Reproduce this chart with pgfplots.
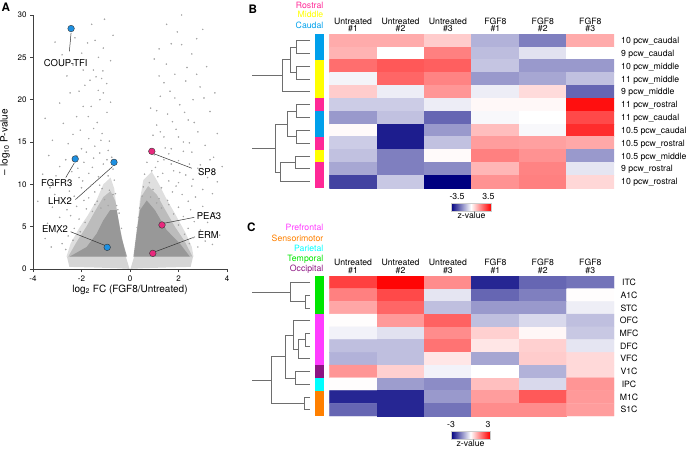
\documentclass[border=0pt]{standalone}
\usepackage{pgfplots}
\pgfplotsset{compat=1.18}
\usepackage{fontspec}
\setmainfont{TeX Gyre Heros}
\definecolor{cloud}{RGB}{140,140,140}
\definecolor{band}{RGB}{214,214,214}
\definecolor{speck}{RGB}{165,165,165}
\definecolor{hlblue}{RGB}{30,144,225}
\definecolor{hlpink}{RGB}{232,40,125}
\definecolor{rostral}{RGB}{255,40,150}
\definecolor{middle}{RGB}{255,255,0}
\definecolor{caudal}{RGB}{0,160,235}
\definecolor{prefrontal}{RGB}{255,60,255}
\definecolor{sensori}{RGB}{255,128,0}
\definecolor{parietal}{RGB}{0,255,255}
\definecolor{temporal}{RGB}{0,230,0}
\definecolor{occipital}{RGB}{140,20,130}
\definecolor{navyc}{RGB}{0,0,128}
\definecolor{dendro}{RGB}{110,110,110}
\definecolor{leader}{RGB}{50,50,50}
\pgfplotsset{colormap={nwr}{rgb255(0cm)=(0,0,128) rgb255(1cm)=(255,255,255) rgb255(2cm)=(255,0,0)}}
\newcommand{\hfont}{\fontsize{8.7}{9}\selectfont}
\begin{document}
\begin{tikzpicture}
\path[use as bounding box] (0pt,0pt) rectangle (688pt,-448pt);

% ---------------- Panel A: volcano ----------------
\begin{axis}[at={(33pt,-269pt)}, anchor=south west, scale only axis,
  width=194pt, height=254pt, xmin=-4, xmax=4, ymin=0, ymax=30,
  axis lines*=left, xtick={-4,-2,0,2,4}, ytick={0,5,10,15,20,25,30},
  tick align=outside, major tick length=3pt,
  tick style={line width=0.5pt, black!75}, axis line style={line width=0.5pt, black!75},
  ticklabel style={font=\fontsize{8}{9}\selectfont},
  /pgf/number format/assume math mode=true,
  xlabel={log\textsubscript{2} FC (FGF8/Untreated)},
  ylabel={– log\textsubscript{10} P-value},
  label style={font=\fontsize{10}{12}\selectfont},
  xlabel style={yshift=3.5pt}, ylabel style={yshift=1pt},
  clip=false]
% non-significant band
\addplot[fill=band, draw=none] coordinates {(-2.5,0.25) (-2.6,1.45) (-0.17,1.45) (-0.02,0.02) (-0.6,0.1) (-1.5,0.18)} -- cycle;
\addplot[fill=band, draw=none] coordinates {(0.02,0.02) (0.17,1.45) (2.6,1.45) (2.5,0.25) (1.5,0.18) (0.6,0.1)} -- cycle;
% outer wings
\addplot[fill=cloud, draw=none, fill opacity=0.28] coordinates {(-2.62,1.45) (-2.45,3) (-2.1,4.8) (-1.75,6.3) (-1.4,8) (-1.1,10) (-0.8,10.8) (-0.65,9.5) (-0.55,7) (-0.35,4) (-0.18,1.45)} -- cycle;
\addplot[fill=cloud, draw=none, fill opacity=0.28] coordinates {(0.18,1.45) (0.3,5) (0.4,8) (0.55,10.5) (0.9,11.5) (1.2,10) (1.5,8.3) (1.9,6.3) (2.3,4.2) (2.55,2.6) (2.62,1.45)} -- cycle;
% middle wings
\addplot[fill=cloud, draw=none, fill opacity=0.42] coordinates {(-2.55,1.45) (-2.2,3.2) (-1.8,5) (-1.45,6.8) (-1.1,8.5) (-0.8,9.2) (-0.6,8) (-0.4,4.5) (-0.15,1.45)} -- cycle;
\addplot[fill=cloud, draw=none, fill opacity=0.42] coordinates {(0.15,1.45) (0.32,5) (0.45,8.5) (0.75,9.8) (1.1,8.8) (1.45,7) (1.85,5) (2.25,3.3) (2.58,1.45)} -- cycle;
% dense cores
\addplot[fill=cloud, draw=none, fill opacity=0.75] coordinates {(-2.5,1.45) (-1.79,2.6) (-1.37,4.2) (-1.1,5.75) (-0.82,6.95) (-0.55,6.95) (-0.34,3.6) (-0.12,1.45)} -- cycle;
\addplot[fill=cloud, draw=none, fill opacity=0.75] coordinates {(0.14,1.45) (0.28,4.6) (0.41,6.95) (0.69,8.1) (1.03,6.95) (1.51,4.6) (2.06,3.0) (2.47,1.45)} -- cycle;
% scattered genes
\addplot[only marks, mark=*, mark size=0.55pt, speck] coordinates {
(-3.09,26.8) (-2.27,27.3) (-1.58,28.9) (-1.44,27.0) (-1.10,26.1) (-1.99,25.5) (-1.93,23.5) (-1.51,23.5)
(-1.12,23.4) (-1.40,22.7) (-1.17,22.5) (-0.96,21.9) (-1.31,21.1) (-1.86,21.7) (-1.10,20.8) (-2.47,20.8)
(-1.24,20.0) (-1.60,19.2) (-1.93,19.2) (-2.20,18.0) (-1.72,18.0) (-2.75,17.2) (-0.95,18.5) (-1.35,17.3)
(-2.05,16.4) (-3.20,15.2) (-1.15,16.0) (-1.70,15.4) (-2.55,14.8) (-0.85,15.1) (-1.45,14.5) (-2.0,14.2)
(-3.35,13.4) (-0.80,24.6) (-2.60,22.8) (-1.75,26.7)
(-3.5,17.8) (-2.9,19.6) (-2.35,24.1) (-2.8,25.3) (-1.3,25.0) (-0.7,27.6) (-1.05,29.5) (-1.65,22.3)
(-2.1,21.0) (-0.8,19.7) (-1.5,16.6) (-2.35,15.9) (-0.9,14.0) (-1.2,15.2) (-2.65,12.9) (-3.05,11.0)
(-1.55,12.0) (-2.15,11.9) (-0.7,11.8) (-1.95,10.4) (-2.45,10.0) (-1.25,9.9) (-3.8,8.0) (-3.1,8.8)
(2.13,30.0) (1.51,28.9) (2.13,26.5) (1.50,24.2) (3.16,23.9) (2.89,21.5) (1.95,28.0) (2.55,25.4)
(1.20,26.0) (1.85,23.0) (2.30,22.2) (1.65,21.0) (2.60,20.0) (1.25,20.4) (2.05,19.4) (3.30,18.6)
(1.55,18.3) (2.40,17.6) (1.10,17.0) (1.90,16.5) (2.80,16.2) (1.40,15.6) (2.20,15.0) (3.10,14.6)
(0.95,15.8) (1.70,14.2) (2.55,13.8) (1.20,22.8) (3.50,20.8) (0.85,19.0) (2.00,12.8) (2.90,12.3) (3.45,13.2)
(3.0,28.3) (2.75,27.2) (1.7,26.6) (1.0,24.8) (2.35,23.8) (1.4,22.0) (2.75,23.0) (1.85,20.2)
(3.05,20.2) (1.1,18.7) (2.25,18.5) (2.65,17.3) (1.75,17.4) (1.25,16.2) (3.6,16.0) (2.0,15.6)
(2.45,14.9) (1.45,14.3) (3.8,12.1) (2.2,13.9) (1.15,12.7) (3.3,12.9) (1.7,12.4) (2.6,10.6) (2.05,11.4) (0.9,11.6)
(-2.9,12.1) (-2.4,11.5) (-1.9,12.6) (-1.5,13.1) (-1.1,12.4) (-0.75,13.2) (-2.7,10.3) (-2.1,10.8)
(-1.7,11.3) (-1.3,10.9) (-0.9,11.0) (-0.65,10.5) (-3.3,9.6) (-2.5,9.2) (-2.0,9.6) (-1.6,9.9)
(-1.45,9.1) (-1.15,9.5) (-0.85,9.3) (-0.70,8.8) (-2.8,8.3) (-2.3,8.6) (-1.9,8.1) (-1.7,8.4)
(-1.35,8.0) (-1.05,8.2) (-0.6,8.9) (-3.6,11.2) (-1.25,13.7) (-0.95,12.9) (-2.2,13.4) (-1.8,13.8)
(-3.2,7.3) (-2.6,7.0) (-2.2,7.4) (-1.8,7.1) (-1.55,6.8) (-2.9,6.1) (-2.45,6.3) (-2.1,5.9)
(-1.85,5.5) (-3.4,5.4) (-2.7,5.1) (-2.3,4.8) (-2.05,4.4) (-3.0,4.3) (-2.55,3.9) (-2.35,3.4)
(-2.8,3.0) (-3.25,2.6) (-2.65,2.3) (-3.5,3.6) (-1.45,7.6) (-1.2,7.2) (-0.55,7.5) (-0.45,6.6)
(-0.9,7.5) (-0.35,4.8) (-0.5,7.0)
(0.7,12.6) (1.05,12.0) (1.4,12.9) (1.8,11.6) (2.3,11.1) (2.8,11.9) (3.2,10.8) (0.6,11.2)
(1.15,10.9) (1.6,10.4) (2.0,10.2) (2.55,9.8) (3.0,9.4) (0.55,9.7) (0.95,9.4) (1.3,9.6)
(1.75,9.1) (2.15,8.8) (2.7,8.5) (3.4,8.9) (0.5,8.6) (0.85,8.5) (1.2,8.3) (1.55,8.1)
(2.4,8.0) (3.6,10.3) (1.0,13.5) (1.6,13.6) (2.45,12.4) (0.8,10.2) (1.9,9.8) (1.35,11.3)
(1.6,7.6) (2.0,7.3) (2.5,7.0) (3.0,7.4) (3.5,6.6) (1.8,6.5) (2.2,6.2) (2.8,6.0)
(3.2,5.5) (2.0,5.2) (2.4,4.8) (2.9,4.6) (2.25,4.1) (2.6,3.7) (3.1,3.3) (2.45,3.0)
(2.8,2.6) (3.4,2.9) (3.7,4.0) (1.3,7.2) (1.1,7.8) (0.4,7.2) (0.35,6.1) (0.3,4.9) (2.65,5.6)
};
% leader lines
\addplot[leader, line width=0.5pt] coordinates {(-2.5,25.7) (-2.43,27.9)};
\addplot[leader, line width=0.5pt] coordinates {(-2.65,10.8) (-2.3,12.5)};
\addplot[leader, line width=0.5pt] coordinates {(-2.25,8.2) (-0.72,12.1)};
\addplot[leader, line width=0.5pt] coordinates {(-2.45,4.4) (-1.0,2.75)};
\addplot[leader, line width=0.5pt] coordinates {(1.0,13.6) (2.55,11.9)};
\addplot[leader, line width=0.5pt] coordinates {(1.4,5.4) (2.65,6.1)};
\addplot[leader, line width=0.5pt] coordinates {(1.0,2.0) (2.68,3.8)};
% highlighted genes
\addplot[only marks, mark=*, mark size=3.3pt, mark options={fill=hlblue, draw=black!80, line width=0.4pt}] coordinates {(-2.43,28.4) (-2.26,13.0) (-0.66,12.6) (-0.94,2.56)};
\addplot[only marks, mark=*, mark size=3.3pt, mark options={fill=hlpink, draw=black!80, line width=0.4pt}] coordinates {(0.90,13.9) (1.32,5.2) (0.94,1.85)};
\node[font=\fontsize{9.5}{10}\selectfont] at (-2.65,24.3) {COUP-TFI};
\node[font=\fontsize{9.5}{10}\selectfont] at (-3.02,10.1) {FGFR3};
\node[font=\fontsize{9.5}{10}\selectfont] at (-2.89,8.0) {LHX2};
\node[font=\fontsize{9.5}{10}\selectfont] at (-3.09,4.7) {EMX2};
\node[font=\fontsize{9.5}{10}\selectfont] at (3.18,11.45) {SP8};
\node[font=\fontsize{9.5}{10}\selectfont] at (3.26,6.26) {PEA3};
\node[font=\fontsize{9.5}{10}\selectfont] at (3.23,4.0) {ERM};
\end{axis}

% ---------------- Panel B heatmap ----------------
\begin{axis}[at={(329.3pt,-188pt)}, anchor=south west, scale only axis,
  width=284.7pt, height=154pt, xmin=-0.5, xmax=5.5, ymin=-0.5, ymax=11.5,
  y dir=reverse, hide axis, colormap name=nwr, point meta min=-3.5, point meta max=3.5]
\addplot[matrix plot*, mesh/cols=6, point meta=explicit] table[meta=c] {
x y c
0 0 1.15
1 0 1.15
2 0 0.70
3 0 -1.05
4 0 -1.75
5 0 1.15
0 1 1.05
1 1 0.0
2 1 1.75
3 1 -0.9
4 1 -0.4
5 1 0.0
0 2 2.0
1 2 2.3
2 2 2.2
3 2 -0.8
4 2 -1.4
5 2 -1.4
0 3 -0.15
1 3 2.1
2 3 1.7
3 3 -1.4
4 3 -1.2
5 3 -0.85
0 4 0.7
1 4 -0.25
2 4 1.45
3 4 -0.25
4 4 0.5
5 4 -2.1
0 5 -0.7
1 5 -0.7
2 5 -0.25
3 5 0.1
4 5 0.1
5 5 3.3
0 6 -1.4
1 6 -0.85
2 6 -2.1
3 6 -0.1
4 6 0.0
5 6 2.5
0 7 0.07
1 7 -3.1
2 7 -1.4
3 7 0.9
4 7 -0.1
5 7 2.9
0 8 -0.7
1 8 -3.1
2 8 -0.85
3 8 1.35
4 8 1.3
5 8 1.2
0 9 -0.85
1 9 -1.75
2 9 0.07
3 9 1.75
4 9 1.5
5 9 -1.4
0 10 -1.2
1 10 -1.75
2 10 -1.6
3 10 1.0
4 10 1.7
5 10 -0.35
0 11 -2.6
1 11 -0.75
2 11 -3.5
3 11 1.5
4 11 1.75
5 11 0.55
};
\end{axis}

% ---------------- Panel C heatmap ----------------
\begin{axis}[at={(329.3pt,-416pt)}, anchor=south west, scale only axis,
  width=284.7pt, height=140pt, xmin=-0.5, xmax=5.5, ymin=-0.5, ymax=10.5,
  y dir=reverse, hide axis, colormap name=nwr, point meta min=-3, point meta max=3]
\addplot[matrix plot*, mesh/cols=6, point meta=explicit] table[meta=c] {
x y c
0 0 2.25
1 0 2.95
2 0 1.35
3 0 -2.55
4 0 -1.8
5 0 -1.65
0 1 1.5
1 1 2.15
2 1 -0.3
3 1 -1.8
4 1 -1.5
5 1 0.03
0 2 1.05
1 2 1.8
2 2 -0.75
3 2 -1.2
4 2 -1.2
5 2 -0.2
0 3 0.03
1 3 1.2
2 3 1.85
3 3 -0.75
4 3 -0.45
5 3 -0.75
0 4 -0.15
1 4 -0.35
2 4 1.35
3 4 0.55
4 4 0.1
5 4 -0.65
0 5 -0.75
1 5 -0.75
2 5 1.65
3 5 0.3
4 5 0.55
5 5 -0.3
0 6 -0.9
1 6 -0.75
2 6 0.3
3 6 -1.05
4 6 0.6
5 6 0.45
0 7 1.25
1 7 0.55
2 7 -0.15
3 7 0.0
4 7 -0.9
5 7 0.45
0 8 0.03
1 8 -1.15
2 8 -1.35
3 8 0.75
4 8 -0.45
5 8 1.25
0 9 -2.55
1 9 -2.55
2 9 -1.2
3 9 1.15
4 9 1.95
5 9 1.2
0 10 -1.8
1 10 -2.55
2 10 -1.65
3 10 1.35
4 10 1.35
5 10 1.15
};
\end{axis}

% ---------------- Overlay: dendrograms, strips ----------------
\begin{axis}[at={(0pt,-448pt)}, anchor=south west, scale only axis,
  width=688pt, height=448pt, xmin=0, xmax=688, ymin=0, ymax=448,
  y dir=reverse, hide axis, clip=false]
% colour strips B
\addplot[fill=caudal, draw=none] coordinates {(315,34) (324,34) (324,59.67) (315,59.67)} -- cycle;
\addplot[fill=middle, draw=none] coordinates {(315,59.67) (324,59.67) (324,98.17) (315,98.17)} -- cycle;
\addplot[fill=rostral, draw=none] coordinates {(315,98.17) (324,98.17) (324,111) (315,111)} -- cycle;
\addplot[fill=caudal, draw=none] coordinates {(315,111) (324,111) (324,136.67) (315,136.67)} -- cycle;
\addplot[fill=rostral, draw=none] coordinates {(315,136.67) (324,136.67) (324,149.5) (315,149.5)} -- cycle;
\addplot[fill=middle, draw=none] coordinates {(315,149.5) (324,149.5) (324,162.33) (315,162.33)} -- cycle;
\addplot[fill=rostral, draw=none] coordinates {(315,162.33) (324,162.33) (324,188) (315,188)} -- cycle;
% colour strips C
\addplot[fill=temporal, draw=none] coordinates {(315,276) (324,276) (324,314.18) (315,314.18)} -- cycle;
\addplot[fill=prefrontal, draw=none] coordinates {(315,314.18) (324,314.18) (324,365.09) (315,365.09)} -- cycle;
\addplot[fill=occipital, draw=none] coordinates {(315,365.09) (324,365.09) (324,377.82) (315,377.82)} -- cycle;
\addplot[fill=parietal, draw=none] coordinates {(315,377.82) (324,377.82) (324,390.55) (315,390.55)} -- cycle;
\addplot[fill=sensori, draw=none] coordinates {(315,390.55) (324,390.55) (324,416) (315,416)} -- cycle;
% dendrogram B
\addplot[dendro, line width=0.6pt] coordinates {(310,40.42) (296,40.42) (296,53.25) (310,53.25)};
\addplot[dendro, line width=0.6pt] coordinates {(310,66.08) (296,66.08) (296,78.92) (310,78.92)};
\addplot[dendro, line width=0.6pt] coordinates {(296,46.83) (290.7,46.83) (290.7,72.5) (296,72.5)};
\addplot[dendro, line width=0.6pt] coordinates {(290.7,59.67) (282.7,59.67) (282.7,91.75) (310,91.75)};
\addplot[dendro, line width=0.6pt] coordinates {(282.7,75.7) (252,75.7)};
\addplot[dendro, line width=0.6pt] coordinates {(310,104.58) (296.7,104.58) (296.7,117.42) (310,117.42)};
\addplot[dendro, line width=0.6pt] coordinates {(310,130.25) (296.7,130.25) (296.7,143.08) (310,143.08)};
\addplot[dendro, line width=0.6pt] coordinates {(296.7,111) (287.7,111) (287.7,136.67) (296.7,136.67)};
\addplot[dendro, line width=0.6pt] coordinates {(310,155.92) (295.7,155.92) (295.7,168.75) (310,168.75)};
\addplot[dendro, line width=0.6pt] coordinates {(295.7,162.33) (280,162.33) (280,181.58) (310,181.58)};
\addplot[dendro, line width=0.6pt] coordinates {(287.7,123.83) (275.7,123.83) (275.7,171.96) (280,171.96)};
\addplot[dendro, line width=0.6pt] coordinates {(275.7,147.9) (252,147.9)};
% dendrogram C
\addplot[dendro, line width=0.6pt] coordinates {(310,295.09) (305,295.09) (305,307.82) (310,307.82)};
\addplot[dendro, line width=0.6pt] coordinates {(310,282.36) (290,282.36) (290,301.45) (305,301.45)};
\addplot[dendro, line width=0.6pt] coordinates {(290,291.9) (252,291.9)};
\addplot[dendro, line width=0.6pt] coordinates {(310,333.27) (305,333.27) (305,346) (310,346)};
\addplot[dendro, line width=0.6pt] coordinates {(305,339.64) (298.3,339.64) (298.3,358.73) (310,358.73)};
\addplot[dendro, line width=0.6pt] coordinates {(310,320.55) (293.3,320.55) (293.3,349.18) (298.3,349.18)};
\addplot[dendro, line width=0.6pt] coordinates {(310,371.45) (295.7,371.45) (295.7,384.18) (310,384.18)};
\addplot[dendro, line width=0.6pt] coordinates {(293.3,334.86) (285,334.86) (285,377.8) (295.7,377.8)};
\addplot[dendro, line width=0.6pt] coordinates {(310,396.91) (304.3,396.91) (304.3,409.64) (310,409.64)};
\addplot[dendro, line width=0.6pt] coordinates {(285,356.3) (271.7,356.3) (271.7,403.27) (304.3,403.27)};
\addplot[dendro, line width=0.6pt] coordinates {(271.7,379.8) (252,379.8)};
\end{axis}

% ---------------- Text (picture coordinates: x pt, -y pt from top-left) ----------------
\node[anchor=base west, font=\fontsize{11.7}{12}\selectfont\bfseries, inner sep=0] at (1.5pt,-11.7pt) {A};
\node[anchor=base west, font=\fontsize{11.7}{12}\selectfont\bfseries, inner sep=0] at (248.5pt,-13.3pt) {B};
\node[anchor=base west, font=\fontsize{11.7}{12}\selectfont\bfseries, inner sep=0] at (246.8pt,-231.7pt) {C};
\node[anchor=base east, inner sep=0, font=\hfont, text=rostral] at (323.5pt,-8.2pt) {Rostral};
\node[anchor=base east, inner sep=0, font=\hfont, text=middle] at (323.5pt,-17.8pt) {Middle};
\node[anchor=base east, inner sep=0, font=\hfont, text=caudal] at (323.5pt,-28.2pt) {Caudal};
\node[anchor=base east, inner sep=0, font=\hfont, text=prefrontal] at (323.5pt,-230.9pt) {Prefrontal};
\node[anchor=base east, inner sep=0, font=\hfont, text=sensori] at (323.5pt,-241.5pt) {Sensorimotor};
\node[anchor=base east, inner sep=0, font=\hfont, text=parietal] at (323.5pt,-251.5pt) {Parietal};
\node[anchor=base east, inner sep=0, font=\hfont, text=temporal] at (323.5pt,-261.5pt) {Temporal};
\node[anchor=base east, inner sep=0, font=\hfont, text=occipital] at (323.5pt,-271.5pt) {Occipital};
\foreach \cx/\ta/\tb in {353.0/Untreated/\#1, 400.5/Untreated/\#2, 447.9/Untreated/\#3, 495.4/FGF8/\#1, 542.8/FGF8/\#2, 590.3/FGF8/\#3}{
  \node[anchor=base, inner sep=0, font=\hfont] at (\cx pt,-24.0pt) {\ta};
  \node[anchor=base, inner sep=0, font=\hfont] at (\cx pt,-31.2pt) {\tb};
  \node[anchor=base, inner sep=0, font=\hfont] at (\cx pt,-265.6pt) {\ta};
  \node[anchor=base, inner sep=0, font=\hfont] at (\cx pt,-273.0pt) {\tb};
}
\foreach \ry/\lab in {43.6/10 pcw\_caudal, 56.4/9 pcw\_caudal, 69.3/10 pcw\_middle, 82.1/11 pcw\_middle, 94.9/9 pcw\_middle, 107.8/11 pcw\_rostral, 120.6/11 pcw\_caudal, 133.4/10.5 pcw\_caudal, 146.3/10.5 pcw\_rostral, 159.1/10.5 pcw\_middle, 171.9/9 pcw\_rostral, 184.8/10 pcw\_rostral}{
  \node[anchor=base west, inner sep=0, font=\hfont] at (621pt,-\ry pt) {\lab};
}
\foreach \ry/\lab in {285.5/ITC, 298.2/A1C, 311.0/STC, 323.7/OFC, 336.4/MFC, 349.2/DFC, 361.9/VFC, 374.6/V1C, 387.3/IPC, 400.1/M1C, 412.8/S1C}{
  \node[anchor=base, inner sep=0, font=\hfont] at (629pt,-\ry pt) {\lab};
}
% colour keys
\shade[left color=navyc, right color=red, middle color=white] (451pt,-203pt) rectangle (491pt,-211pt);
\draw[black!20, line width=0.3pt] (451pt,-203pt) rectangle (491pt,-211pt);
\node[anchor=base, inner sep=0, font=\hfont] at (457pt,-199.8pt) {-3.5};
\node[anchor=base, inner sep=0, font=\hfont] at (488.3pt,-199.8pt) {3.5};
\node[anchor=base, inner sep=0, font=\hfont] at (471.5pt,-218.6pt) {z-value};
\shade[left color=navyc, right color=red, middle color=white] (451pt,-431pt) rectangle (490pt,-439pt);
\draw[black!20, line width=0.3pt] (451pt,-431pt) rectangle (490pt,-439pt);
\node[anchor=base, inner sep=0, font=\hfont] at (451pt,-427.2pt) {-3};
\node[anchor=base, inner sep=0, font=\hfont] at (488pt,-427.2pt) {3};
\node[anchor=base, inner sep=0, font=\hfont] at (470.5pt,-446.3pt) {z-value};
\end{tikzpicture}
\end{document}
